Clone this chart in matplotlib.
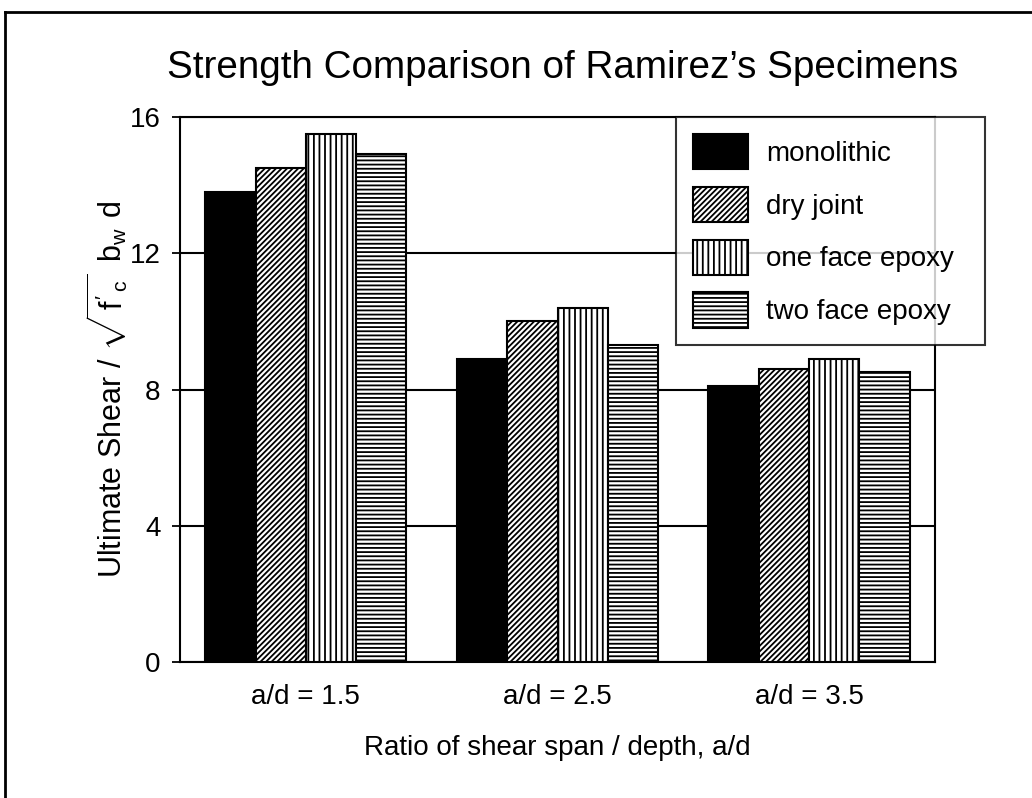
import numpy as np
import matplotlib
matplotlib.use("Agg")
import matplotlib.pyplot as plt
from matplotlib.lines import Line2D

plt.rcParams['font.family'] = ['Liberation Sans', 'DejaVu Sans']
plt.rcParams['hatch.linewidth'] = 1.3
plt.rcParams['mathtext.fontset'] = 'custom'
plt.rcParams['mathtext.rm'] = 'Liberation Sans'
plt.rcParams['mathtext.it'] = 'Liberation Sans'

groups = ['a/d = 1.5', 'a/d = 2.5', 'a/d = 3.5']
series = ['monolithic', 'dry joint', 'one face epoxy', 'two face epoxy']
monolithic = [13.8, 8.9, 8.1]
dry_joint = [14.5, 10.0, 8.6]
one_face_epoxy = [15.5, 10.4, 8.9]
two_face_epoxy = [14.9, 9.3, 8.5]

values = [monolithic, dry_joint, one_face_epoxy, two_face_epoxy]
fills = ['black', 'white', 'white', 'white']
hatches = [None, '//////', '|||', '----']

fig = plt.figure(figsize=(10.32, 7.98), dpi=100)
ax = fig.add_axes([180 / 1032, 136 / 798, 755 / 1032, 545 / 798])

x = np.arange(len(groups))
width = 0.2
for i, (vals, name) in enumerate(zip(values, series)):
    ax.bar(x + (i - 1.5) * width, vals, width, color=fills[i],
           edgecolor='black', hatch=hatches[i], linewidth=1.5,
           label=name, zorder=3)

ax.set_xlim(-0.5, 2.5)
ax.set_ylim(0, 16)
ax.set_yticks([0, 4, 8, 12, 16])
ax.set_xticks(x)
ax.set_xticklabels(groups)
ax.tick_params(axis='x', length=0, pad=16, labelsize=20)
ax.tick_params(axis='y', direction='out', length=6, width=1.3, pad=8,
               labelsize=20)
ax.yaxis.grid(True, color='black', linewidth=1.5)
ax.set_axisbelow(True)
for s in ax.spines.values():
    s.set_linewidth(1.5)

ax.set_xlabel('Ratio of shear span / depth, a/d', fontsize=20, labelpad=18)
ax.set_ylabel(r"Ultimate Shear / $\sqrt{\,f'_{\,c}}\;\;b_w\;\,d$", fontsize=22,
              labelpad=0)
fig.text(0.5455, 0.915, "Strength Comparison of Ramirez’s Specimens",
         ha='center', va='center', fontsize=27.8)

leg = ax.legend(loc='upper left', bbox_to_anchor=(496 / 755, 0, 309 / 755, 1.0),
                mode='expand', fontsize=20, frameon=True, fancybox=False,
                borderaxespad=0, borderpad=0.6, handlelength=1.98,
                handleheight=1.6, labelspacing=0.62, handletextpad=0.65)
leg.get_frame().set_edgecolor('black')
leg.get_frame().set_linewidth(1.5)
leg.set_zorder(5)

# page frame along the top and left edges
fig.add_artist(Line2D([5 / 1032, 5 / 1032], [0, 1 - 12 / 798],
                      transform=fig.transFigure, color='black', linewidth=2))
fig.add_artist(Line2D([5 / 1032, 1], [1 - 12 / 798, 1 - 12 / 798],
                      transform=fig.transFigure, color='black', linewidth=2))

fig.savefig('out.png', dpi=100)
